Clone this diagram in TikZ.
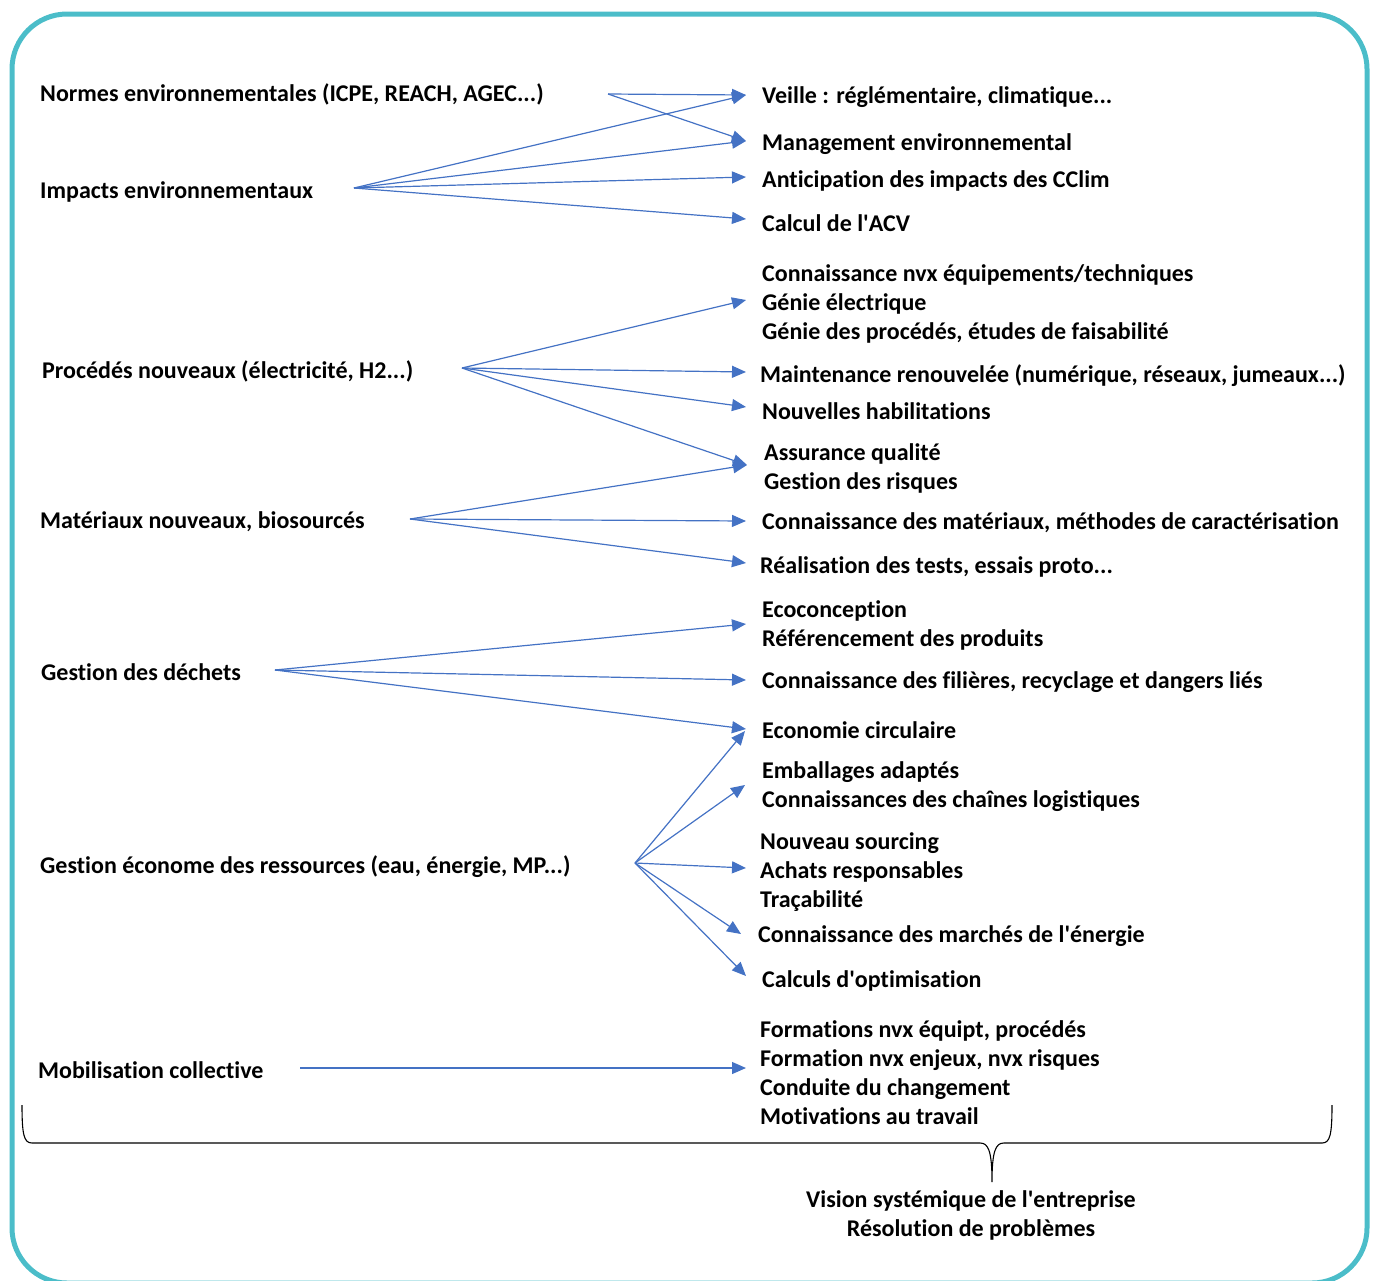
\documentclass[tikz,border=0pt]{standalone}
\usepackage{fontspec}
\setmainfont{Carlito}[Ligatures=NoCommon]
\usetikzlibrary{arrows.meta}
\definecolor{frame}{HTML}{4BBDC9}
\definecolor{arr}{HTML}{4472C4}
\newcommand{\ap}{\textquotesingle}
\begin{document}
\begin{tikzpicture}[x=1pt,y=-1pt,
  lbl/.style={anchor=west,inner sep=0pt,align=left,yshift=-1.5pt,font=\fontsize{24}{29}\selectfont\bfseries},
  conn/.style={draw=arr,line width=1.2pt,-{Triangle[length=14pt,width=12pt]}}]
\useasboundingbox (0,0) rectangle (1373,1280);
\begin{scope}
\clip (0,0) rectangle (1373,1280);
\draw[frame,line width=5pt,rounded corners=55pt] (12,14) rectangle (1367,1283);
\end{scope}
% left labels
\node[lbl] (nor) at (40,93) {Normes environnementales (ICPE, REACH, AGEC...)};
\node[lbl] (imp) at (40,190) {Impacts environnementaux};
\node[lbl] (pro) at (42,370) {Procédés nouveaux (électricité, H2...)};
\node[lbl] (mat) at (40,520) {Matériaux nouveaux, biosourcés};
\node[lbl] (dec) at (41,671) {Gestion des déchets};
\node[lbl] (res) at (40,865) {Gestion économe des ressources (eau, énergie, MP...)};
\node[lbl] (mob) at (38,1069) {Mobilisation collective};
% right labels
\node[lbl] (vei) at (762,96) {Veille : réglémentaire, climatique...};
\node[lbl] (man) at (762,143) {Management environnemental};
\node[lbl] (ant) at (762,179) {Anticipation des impacts des CClim};
\node[lbl] (acv) at (762,222) {Calcul de l\ap ACV};
\node[lbl] (con) at (762,302) {Connaissance nvx équipements/techniques\\Génie électrique\\Génie des procédés, études de faisabilité};
\node[lbl] (mai) at (760,374) {Maintenance renouvelée (numérique, réseaux, jumeaux...)};
\node[lbl] (hab) at (762,410) {Nouvelles habilitations};
\node[lbl] (ass) at (764,467) {Assurance qualité\\Gestion des risques};
\node[lbl] (cmat) at (762,521) {Connaissance des matériaux, méthodes de caractérisation};
\node[lbl] (tes) at (760,565) {Réalisation des tests, essais proto...};
\node[lbl] (eco) at (762,624) {Ecoconception\\Référencement des produits};
\node[lbl] (fil) at (762,681) {Connaissance des filières, recyclage et dangers liés};
\node[lbl] (cir) at (762,729) {Economie circulaire};
\node[lbl] (emb) at (762,785) {Emballages adaptés\\Connaissances des chaînes logistiques};
\node[lbl] (sou) at (760,871) {Nouveau sourcing\\Achats responsables\\Traçabilité};
\node[lbl] (ene) at (758,935) {Connaissance des marchés de l\ap énergie};
\node[lbl] (opt) at (762,979) {Calculs d\ap optimisation};
\node[lbl] (for) at (760,1071) {Formations nvx équipt, procédés\\Formation nvx enjeux, nvx risques\\Conduite du changement\\Motivations au travail};
\node[lbl,anchor=center,align=center] (vis) at (971,1214) {Vision systémique de l\ap entreprise\\Résolution de problèmes};
% arrow sources
\coordinate (sN) at (608,94);
\coordinate (sI) at (354,188);
\coordinate (sP) at (462,368);
\coordinate (sM) at (410,519);
\coordinate (sD) at (275,670);
\coordinate (sR) at (635,863);
\coordinate (sC) at (300,1068);
% arrow targets
\coordinate (tVei) at (746,95);
\coordinate (tMan) at (746,141);
\coordinate (tAnt) at (746,177);
\coordinate (tAcv) at (746,219);
\coordinate (tCon) at (746,300);
\coordinate (tMai) at (746,372);
\coordinate (tHab) at (746,407);
\coordinate (tAss) at (747,465);
\coordinate (tMat) at (746,521);
\coordinate (tTes) at (746,563);
\coordinate (tEco) at (746,624);
\coordinate (tFil) at (746,680);
\coordinate (tCir) at (746,729);
\coordinate (tCir2) at (745,731);
\coordinate (tEmb) at (745,785);
\coordinate (tSou) at (746,868);
\coordinate (tEne) at (741,934);
\coordinate (tOpt) at (746,976);
\coordinate (tFor) at (746,1068);
% arrows
\draw[conn] (sN) -- (tVei);
\draw[conn] (sN) -- (tMan);
\draw[conn] (sI) -- (tVei);
\draw[conn] (sI) -- (tMan);
\draw[conn] (sI) -- (tAnt);
\draw[conn] (sI) -- (tAcv);
\draw[conn] (sP) -- (tCon);
\draw[conn] (sP) -- (tMai);
\draw[conn] (sP) -- (tHab);
\draw[conn] (sP) -- (tAss);
\draw[conn] (sM) -- (tAss);
\draw[conn] (sM) -- (tMat);
\draw[conn] (sM) -- (tTes);
\draw[conn] (sD) -- (tEco);
\draw[conn] (sD) -- (tFil);
\draw[conn] (sD) -- (tCir);
\draw[conn] (sR) -- (tCir2);
\draw[conn] (sR) -- (tEmb);
\draw[conn] (sR) -- (tSou);
\draw[conn] (sR) -- (tEne);
\draw[conn] (sR) -- (tOpt);
\draw[conn] (sC) -- (tFor);
% brace
\coordinate (bL) at (22,1105);
\coordinate (bR) at (1332,1105);
\coordinate (bM) at (992,1182);
\draw[line width=1.1pt] (bL) .. controls (22,1135) and (24,1143) .. (32,1143) -- (980,1143)
  .. controls (988,1143) and (992,1150) .. (bM)
  .. controls (992,1150) and (996,1143) .. (1004,1143) -- (1322,1143)
  .. controls (1330,1143) and (1332,1135) .. (bR);
\end{tikzpicture}
\end{document}
